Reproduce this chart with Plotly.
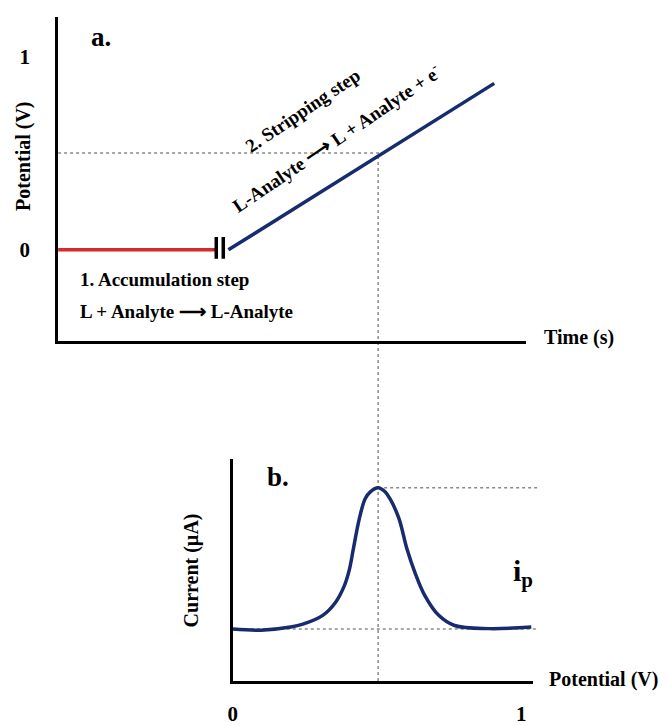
import plotly.graph_objects as go

# ---------------- data ----------------
# (a) potential programme: accumulation at 0 V, then a linear stripping sweep
accum_time = [0.0, 3.36]
accum_potential = [0.0, 0.0]
break_times = [3.38, 3.53]          # axis-break marks between the two steps
break_span = [-0.046, 0.066]
sweep_time = [3.64, 9.32]
sweep_potential = [0.0, 0.86]
step_a_ticks = [0, 1]

# (b) stripping voltammogram
scan_potential = [0.000, 0.098, 0.201, 0.243, 0.312, 0.356, 0.387, 0.404, 0.418,
                  0.439, 0.459, 0.477, 0.504, 0.528, 0.545, 0.576, 0.604, 0.632,
                  0.666, 0.714, 0.769, 0.887, 1.035]
scan_current = [0.234, 0.229, 0.243, 0.256, 0.296, 0.354, 0.430, 0.501, 0.595,
                0.733, 0.822, 0.853, 0.871, 0.853, 0.822, 0.733, 0.595, 0.488,
                0.385, 0.296, 0.250, 0.236, 0.243]
scan_ticks = [0, 1]
guide_potential = 0.5      # level marked on the sweep
guide_extent = 1.06        # how far the dotted guides run in (b)

# ---------------- geometry ----------------
W, H = 667, 726
FONT = "Liberation Serif, Times New Roman, serif"
RED = "#d42a2a"
NAVY = "#172b6e"
GUIDE = "#8a8a8a"


def pxx(x):
    return x / W


def pxy(y):
    return 1 - y / H


dom_a_x = [pxx(53.5), pxx(525)]
dom_a_y = [pxy(345.5), pxy(17)]
range_a_x = [0, 10]
range_a_y = [-0.472, 1.204]

dom_b_x = [pxx(229.5), pxx(532)]
dom_b_y = [pxy(689.5), pxy(465)]
range_b_x = [0, 1.041]
range_b_y = [0, 1]


def to_paper(v, rng, dom):
    return dom[0] + (v - rng[0]) / (rng[1] - rng[0]) * (dom[1] - dom[0])


fig = go.Figure()

# ---------- panel (a) ----------
fig.add_trace(go.Scatter(x=accum_time, y=accum_potential, mode="lines",
                         line=dict(color=RED, width=3.5), xaxis="x", yaxis="y",
                         showlegend=False, hoverinfo="skip"))
for bt in break_times:
    fig.add_trace(go.Scatter(x=[bt, bt], y=break_span, mode="lines",
                             line=dict(color="black", width=3.5), xaxis="x", yaxis="y",
                             showlegend=False, hoverinfo="skip"))
fig.add_trace(go.Scatter(x=sweep_time, y=sweep_potential, mode="lines",
                         line=dict(color=NAVY, width=3.5), xaxis="x", yaxis="y",
                         showlegend=False, hoverinfo="skip"))

# time at which the sweep passes the marked potential
t_cross = sweep_time[0] + (guide_potential - sweep_potential[0]) / \
    (sweep_potential[1] - sweep_potential[0]) * (sweep_time[1] - sweep_time[0])

# ---------- panel (b) ----------
fig.add_trace(go.Scatter(x=scan_potential, y=scan_current, mode="lines",
                         line=dict(color=NAVY, width=3.5, shape="spline", smoothing=1.0),
                         xaxis="x2", yaxis="y2", showlegend=False, hoverinfo="skip"))

i_peak = max(scan_current)
e_peak = scan_potential[scan_current.index(i_peak)]
i_base = scan_current[0]

dot = dict(color=GUIDE, width=1.5, dash="dot")
shapes = [
    # horizontal guide at the marked potential in (a)
    dict(type="line", xref="x", yref="y", x0=0, x1=t_cross,
         y0=guide_potential, y1=guide_potential, line=dot, layer="below"),
    # vertical guide joining the peak in (b) to the sweep in (a)
    dict(type="line", xref="x2", yref="paper", x0=e_peak, x1=e_peak,
         y0=dom_b_y[0], y1=to_paper(guide_potential, range_a_y, dom_a_y),
         line=dot, layer="below"),
    # peak current and baseline guides in (b)
    dict(type="line", xref="paper", yref="y2",
         x0=to_paper(e_peak, range_b_x, dom_b_x),
         x1=to_paper(guide_extent, range_b_x, dom_b_x),
         y0=i_peak, y1=i_peak, line=dot, layer="below"),
    dict(type="line", xref="paper", yref="y2",
         x0=dom_b_x[0], x1=to_paper(guide_extent, range_b_x, dom_b_x),
         y0=i_base, y1=i_base, line=dot, layer="below"),
]

axis_common = dict(showline=True, linewidth=3, linecolor="black", showgrid=False,
                   zeroline=False, ticks="", mirror=False, fixedrange=True)

tick_font = dict(family=FONT, size=21, color="black", weight="bold")


def ann(text, x, y, size=19, xanchor="center", yanchor="middle", angle=0):
    return dict(text=text, x=pxx(x), y=pxy(y), xref="paper", yref="paper",
                showarrow=False, xanchor=xanchor, yanchor=yanchor, textangle=angle,
                font=dict(family=FONT, size=size, color="black", weight="bold"))


annotations = [
    ann("a.", 97, 37, size=27),
    ann("Potential (V)", 18, 158, size=20, angle=-90),
    ann("Time (s)", 541, 342, size=20, xanchor="left"),
    ann("1. Accumulation step", 74, 283, size=19, xanchor="left"),
    ann("L + Analyte \u27f6 L-Analyte", 74, 315, size=19, xanchor="left"),
    ann("2. Stripping step", 300, 112, size=19, angle=-34),
    ann("L-Analyte \u27f6 L + Analyte + e<sup>-</sup>", 333, 140, size=19, angle=-34),
    ann("b.", 275, 483, size=27),
    ann("Current (\u00b5A)", 188, 578, size=20, angle=-90),
    ann("Potential (V)", 546, 688, size=20, xanchor="left"),
    ann("i<sub>p</sub>", 522, 580, size=30),
]

fig.update_layout(
    width=W, height=H,
    margin=dict(l=0, r=0, t=0, b=0),
    paper_bgcolor="white", plot_bgcolor="rgba(0,0,0,0)",
    font=dict(family=FONT, color="black"),
    showlegend=False,
    xaxis=dict(domain=dom_a_x, range=range_a_x, anchor="y", showticklabels=False,
               **axis_common),
    yaxis=dict(domain=dom_a_y, range=range_a_y, anchor="x", tickvals=step_a_ticks,
               ticktext=[str(v) for v in step_a_ticks], tickfont=tick_font,
               ticklabelstandoff=21, **axis_common),
    xaxis2=dict(domain=dom_b_x, range=range_b_x, anchor="y2", tickvals=scan_ticks,
                ticktext=[str(v) for v in scan_ticks], tickfont=tick_font,
                ticklabelstandoff=12, **axis_common),
    yaxis2=dict(domain=dom_b_y, range=range_b_y, anchor="x2", showticklabels=False,
                **axis_common),
    shapes=shapes,
    annotations=annotations,
)

fig.write_html("out.html", config={"displayModeBar": False})
